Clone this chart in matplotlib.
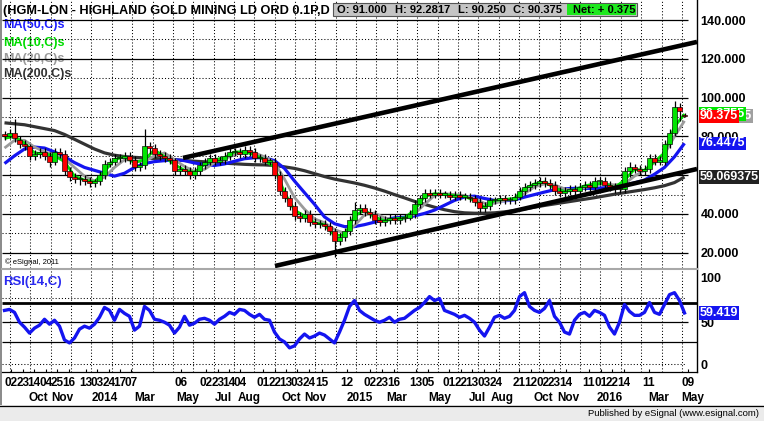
import matplotlib
matplotlib.use('Agg')
import matplotlib.pyplot as plt
import matplotlib.transforms as mtrans
from matplotlib.patches import Rectangle
from matplotlib.lines import Line2D
import numpy as np

W, H = 764, 421
FONT = 'Liberation Sans'
plt.rcParams['font.family'] = [FONT, 'DejaVu Sans']

# ---------------- data (weekly candles) ----------------
closes = [80, 82, 79, 76, 75, 70, 71, 72, 70, 67,
          72, 71, 62, 59, 58, 58, 57, 56, 57, 60,
          66, 67, 69, 69, 70, 68, 64, 65, 75, 74,
          71, 70, 69, 68, 62, 63, 62, 60, 62, 65,
          67, 69, 67, 68, 70, 72, 72, 71, 73, 72,
          69, 69, 67, 67, 60, 52, 48, 44, 39, 38,
          40, 36, 35, 35, 34, 31, 26, 28, 31, 37,
          42, 43, 41, 40, 37, 36, 37, 38, 37, 38,
          38, 40, 45, 48, 51, 50, 51, 50, 50, 49,
          50, 49, 49, 48, 46, 43, 44, 47, 47, 48,
          47, 47, 49, 52, 54, 55, 56, 57, 56, 55,
          52, 51, 52, 53, 52, 54, 55, 54, 57, 57,
          55, 54, 53, 53, 62, 64, 63, 62, 63, 69,
          67, 67, 76, 82, 95, 93, 90.375]
opens = [81, 80, 82, 78, 76, 75, 70, 71, 72, 70,
         67, 72, 71, 62, 59, 58, 58, 57, 56, 57,
         60, 66, 67, 69, 69, 70, 68, 64, 65, 75,
         74, 71, 70, 69, 68, 62, 63, 62, 60, 62,
         65, 67, 69, 67, 68, 70, 72, 72, 71, 73,
         72, 69, 69, 67, 67, 60, 52, 48, 44, 39,
         38, 40, 36, 35, 35, 34, 31, 26, 28, 31,
         37, 42, 43, 41, 40, 37, 36, 37, 38, 37,
         38, 38, 40, 45, 48, 51, 50, 51, 50, 50,
         49, 50, 49, 49, 48, 46, 43, 44, 47, 47,
         48, 47, 47, 49, 52, 54, 55, 56, 57, 56,
         55, 52, 51, 52, 53, 52, 54, 55, 54, 57,
         57, 55, 54, 53, 53, 62, 64, 63, 62, 63,
         69, 67, 67, 76, 82, 95, 91]
highs = [83, 84, 89, 80, 78, 76, 73, 74, 74, 72,
         74, 74, 73, 64, 61, 60, 60, 59, 58, 62,
         68, 69, 71, 71, 72, 72, 70, 67, 84, 77,
         76, 73, 72, 71, 69, 65, 65, 64, 64, 67,
         69, 71, 71, 70, 72, 74, 74, 74, 75, 75,
         74, 71, 71, 69, 69, 62, 54, 50, 46, 41,
         42, 42, 38, 37, 37, 36, 33, 30, 33, 39,
         46, 45, 45, 43, 42, 39, 39, 40, 40, 40,
         40, 42, 47, 50, 53, 53, 53, 53, 52, 52,
         52, 52, 51, 51, 50, 48, 46, 49, 49, 50,
         50, 49, 51, 54, 56, 57, 58, 59, 59, 58,
         57, 54, 54, 55, 55, 56, 57, 57, 59, 59,
         59, 57, 56, 55, 64, 67, 66, 65, 65, 71,
         71, 70, 78, 84, 98, 97, 92.2817]
lows = [78, 79, 77, 74, 73, 68, 68, 69, 68, 64,
        65, 69, 60, 57, 56, 55, 55, 54, 54, 55,
        58, 64, 65, 67, 67, 66, 62, 62, 63, 71,
        69, 68, 67, 66, 60, 60, 60, 58, 58, 60,
        63, 65, 65, 65, 66, 68, 70, 69, 69, 70,
        67, 67, 65, 65, 58, 50, 46, 42, 37, 36,
        36, 34, 33, 33, 32, 29, 18, 24, 26, 29,
        35, 40, 39, 38, 35, 34, 34, 35, 35, 35,
        36, 37, 38, 43, 46, 48, 48, 48, 48, 47,
        47, 47, 47, 46, 44, 41, 41, 42, 45, 45,
        45, 45, 45, 47, 50, 52, 53, 54, 54, 53,
        50, 49, 49, 50, 50, 50, 52, 52, 52, 55,
        53, 52, 51, 51, 51, 59, 61, 60, 60, 61,
        65, 65, 65, 74, 80, 88, 90.25]

# moving averages, one value every two candles
ma10 = [79, 80, 76.5, 71.5, 71, 70, 67, 59.5, 57.5, 56.5,
        62, 68, 69.5, 66.5, 68, 73, 69.5, 65.5, 62.5, 61.5,
        65.5, 68, 69, 72, 72, 70.5, 68, 64, 51, 42,
        39, 35.5, 34.5, 29, 29, 39, 42, 38.5, 36.5, 37.5,
        38, 42, 49, 50.5, 50, 49.5, 49, 47, 43.5, 47,
        47.5, 48, 53, 55.5, 56.5, 53.5, 51.5, 52.5, 54.5, 55.5,
        56, 53.5, 57.5, 63, 62.5, 67, 71.5, 85, 91.5]
ma20 = [74, 78, 78, 74.5, 72, 70.5, 68.5, 64, 59.5, 57,
        59, 64, 68, 67.5, 67, 70, 71.5, 68, 64.5, 62,
        63, 66.5, 68.5, 70.5, 72, 71.5, 69.5, 66.5, 58, 48.5,
        42.5, 37.5, 35.5, 32, 30, 34, 39.5, 40.5, 38, 37,
        37.5, 40, 45, 49.5, 50.5, 50, 49.5, 48, 45.5, 45.5,
        47, 47.5, 50.5, 54, 55.5, 55, 53, 52, 53.5, 55,
        55.5, 55, 55.5, 59.5, 62.5, 66.5, 71, 80, 88]
ma50 = [66, 70, 73.5, 74.5, 74, 72, 69.5, 66.5, 64, 62.5,
        61, 59.5, 61, 64, 66, 67, 67.5, 68, 67.5, 66.3,
        65.5, 65, 65.8, 67.2, 68.5, 69, 69, 67.5, 63.5, 57,
        51, 45, 38.5, 35, 33.5, 33.5, 34.5, 35.8, 37, 38,
        38.3, 39, 40.3, 42, 44.5, 47, 48.8, 49.2, 48, 47,
        46.8, 47.3, 48.7, 50, 51.3, 52.5, 53, 53.2, 53.2, 53.2,
        53.5, 53.8, 55, 56, 57.5, 60.5, 64, 69.5, 76.4475]
ma200 = [87, 86.5, 86, 85, 84, 83, 81, 78.5, 76, 73.5,
         71.5, 70.3, 69.6, 69.2, 68.9, 68.6, 68.3, 68, 67.6, 67.2,
         66.9, 66.6, 66.2, 65.9, 65.6, 65.4, 65.3, 65, 64.3, 63.5,
         62.3, 60.8, 59.3, 58, 57, 56, 54.8, 53.4, 51.8, 50,
         48.3, 46.5, 45, 43.5, 42.2, 41.2, 40.6, 40.4, 40.4, 40.6,
         41.1, 41.8, 42.6, 43.5, 44.4, 45.2, 46, 46.8, 47.6, 48.4,
         49.3, 50.2, 51, 51.8, 52.6, 53.5, 54.6, 56.2, 59.069375]

rsi = [62, 63, 60, 50, 45, 39, 44, 47, 53, 48,
       52, 46, 32, 29, 34, 43, 46, 44, 48, 55,
       65, 62, 52, 63, 59, 56, 42, 46, 66, 62,
       53, 52, 50, 47, 39, 45, 56, 47, 49, 53,
       54, 52, 48, 53, 56, 60, 58, 63, 62, 58,
       55, 58, 53, 52, 40, 33, 30, 24, 26, 33,
       38, 34, 36, 39, 37, 33, 29, 40, 52, 66,
       72, 62, 58, 55, 52, 50, 52, 55, 50, 53,
       54, 58, 62, 65, 70, 76, 72, 74, 62, 60,
       58, 55, 57, 54, 50, 42, 36, 45, 55, 57,
       54, 56, 62, 76, 80, 66, 62, 60, 64, 72,
       56, 50, 40, 38, 52, 58, 60, 56, 62, 60,
       57, 45, 38, 50, 68, 61, 57, 57, 60, 70,
       60, 58, 68, 78, 80, 72, 59.419]

# trend lines drawn on the chart: (bar index, price)
upper_trend = ([181, 695], [68.9, 128.7])
lower_trend = ([273, 695], [13.2, 63.2])

price_ticks = [140, 120, 100, 80, 60, 40, 20]
price_dotted = [130, 110, 90, 70, 50, 30]
rsi_ticks = [100, 50, 0]

day_labels = ["02", "23", "14", "04", "25", "16", "13", "03", "24", "17", "07",
              "06", "02", "23", "14", "04", "01", "22", "13", "03", "24", "15",
              "12", "02", "23", "16", "13", "05", "01", "22", "13", "03", "24",
              "21", "12", "02", "23", "14", "11", "01", "22", "14", "11", "09"]
day_pos = [9, 21, 32, 44, 55, 67, 84, 95, 107, 118, 129,
           179, 204, 216, 227, 238, 261, 273, 284, 295, 307, 320,
           345, 368, 380, 392, 414, 426, 447, 459, 470, 482, 494,
           517, 529, 541, 552, 564, 587, 599, 610, 622, 647, 686]
month_labels = ["Oct", "Nov", "2014", "Mar", "May", "Jul", "Aug", "Oct", "Nov",
                "2015", "Mar", "May", "Jul", "Aug", "Oct", "Nov", "2016", "Mar", "May"]
month_pos = [36, 60, 103, 143, 186, 221, 247, 289, 313,
             358, 395, 438, 475, 500, 541, 566, 608, 657, 691]

title = "(HGM-LON - HIGHLAND GOLD MINING LD ORD 0.1P,D"
bar_open, bar_high, bar_low, bar_close, bar_net = 91.000, 92.2817, 90.250, 90.375, 0.375

# ---------------- figure ----------------
fig = plt.figure(figsize=(W / 100, H / 100), dpi=100)
fig.patch.set_facecolor('white')
pxT = mtrans.Affine2D().scale(1 / W, -1 / H).translate(0, 1) + fig.transFigure

ax = fig.add_axes([2 / W, 1 - 268 / H, 695 / W, 268 / H])
rs = fig.add_axes([2 / W, 1 - 372 / H, 695 / W, 102 / H])
for a in (ax, rs):
    for s in a.spines.values():
        s.set_visible(False)
    a.set_xlim(0, 695)
    a.set_facecolor('white')
ax.set_ylim(12.16, 150.31)
rs.set_ylim(-0.5, 103)

n = len(closes)
xc = 2.5 + 5 * np.arange(n)
xm = 2.5 + 10 * np.arange(len(ma10))

# grid
grid_t = np.arange(8, 685, 20.36)
dot = (0, (1, 2))
ax.vlines(grid_t, 12.16, 150.31, colors='black', linestyles=dot, lw=0.75, zorder=1.5)
rs.vlines(grid_t, -0.5, 103, colors='black', linestyles=dot, lw=0.75, zorder=1.5)
ax.hlines(price_ticks, 0, 686, colors='black', lw=0.9, zorder=1.6)
ax.hlines(price_dotted, 0, 684, colors='black', linestyles=dot, lw=0.75, zorder=1.5)
rs.hlines([70], 0, 695, colors='black', lw=2.0, zorder=1.6)
rs.hlines([50], 0, 686, colors='black', lw=0.9, zorder=1.6)
rs.hlines([30], 0, 695, colors='black', lw=0.9, zorder=1.6)
rs.hlines([75, 8], 0, 684, colors='black', linestyles=dot, lw=0.75, zorder=1.5)

# moving averages
ax.plot(xm, ma200, color='#333333', lw=2.3, zorder=3, solid_capstyle='butt')
ax.plot(xm, ma50, color='#1414f0', lw=2.3, zorder=3.1, solid_capstyle='butt')
ax.plot(xm, ma20, color='#9b9b9b', lw=2.0, zorder=3.2, solid_capstyle='butt')
ax.plot(xm, ma10, color='#00e600', lw=2.0, zorder=3.3, solid_capstyle='butt')

# candles
o = np.array(opens, float); c = np.array(closes, float)
hi = np.array(highs, float); lo = np.array(lows, float)
up = c >= o
ax.vlines(xc, lo, hi, colors='black', lw=0.9, zorder=4)
body_h = np.maximum(np.abs(c - o), 0.6)
ax.bar(xc, body_h, bottom=np.minimum(o, c), width=4.3,
       color=np.where(up, '#00e600', '#ff0000'), edgecolor='black', linewidth=0.45, zorder=4.5)

# trend lines
ax.plot(*upper_trend, color='black', lw=3.3, zorder=6, solid_capstyle='butt')
ax.plot(*lower_trend, color='black', lw=3.3, zorder=6, solid_capstyle='butt')

# RSI
rs.plot(xc, rsi, color='#1414f0', lw=2.4, zorder=3)

# axis ticks
ax.set_xticks([])
ax.yaxis.tick_right()
ax.set_yticks(price_ticks)
ax.set_yticklabels([f'{v:.3f}' for v in price_ticks], fontsize=9, fontweight='bold')
ax.tick_params(axis='y', length=0, pad=2.5)

rs.yaxis.tick_right()
rs.set_yticks(rsi_ticks)
rs.set_yticklabels([str(v) for v in rsi_ticks], fontsize=9, fontweight='bold')
rs.tick_params(axis='y', length=0, pad=2.5)
labs = rs.get_yticklabels()
labs[0].set_va('top'); labs[2].set_va('bottom')

rs.set_xticks(day_pos)
rs.set_xticklabels(day_labels, fontsize=8.5, fontweight='bold')
rs.tick_params(axis='x', length=2.5, width=0.8, direction='in', pad=3.5)
btr = mtrans.blended_transform_factory(rs.transData, pxT)
for lab, p in zip(month_labels, month_pos):
    rs.text(p, 398, lab, transform=btr, ha='center', va='center',
            fontsize=8.5, fontweight='bold', clip_on=False)

# right-side value boxes
def vbox(a, val, s, fc, tc='white', z=10):
    a.text(697.6, val, s, transform=a.transData, ha='left', va='center', fontsize=9,
           fontweight='bold', color=tc, clip_on=False, zorder=z,
           bbox=dict(boxstyle='square,pad=0.06', fc=fc, ec='none'))

vbox(ax, ma20[-1] + 2.5, '90.37555', '#a0a0a0', z=10)
vbox(ax, ma10[-1], '90.3755', '#00e600', z=11)
vbox(ax, closes[-1], f'{closes[-1]:.3f}', '#ff0000', z=12)
vbox(ax, ma50[-1], f'{ma50[-1]}', '#1414f0', z=12)
vbox(ax, ma200[-1], f'{ma200[-1]}', '#222222', z=12)
vbox(rs, rsi[-1], f'{rsi[-1]}', '#1414f0', z=12)

# header and legend (under the grid)
ax.text(3, 11, title, transform=pxT, fontsize=9.2, fontweight='bold', va='center',
        ha='left', clip_on=False, zorder=1)
leg = [("MA(50,C)s", '#1f1fff', 25), ("MA(10,C)s", '#00dd00', 43),
       ("MA(20,C)s", '#9a9a9a', 59), ("MA(200,C)s", '#333333', 74)]
for s, col, y in leg:
    ax.text(3, y, s, transform=pxT, fontsize=9, fontweight='bold', color=col,
            va='center', ha='left', clip_on=False, zorder=1)

ax.add_patch(Rectangle((333, 3), 304, 13, transform=pxT, fc='#c4c4c4', ec='#555555',
                       lw=0.8, clip_on=False, zorder=7))
ax.add_patch(Rectangle((567, 4), 69, 11, transform=pxT, fc='#1ee81e', ec='none',
                       clip_on=False, zorder=7.5))
for x0, s in [(337, f'O: {bar_open:.3f}'), (395, f'H: {bar_high}'),
              (458, f'L: {bar_low:.3f}'), (513, f'C: {bar_close:.3f}'),
              (573, f'Net: + {bar_net:.3f}')]:
    ax.text(x0, 9.8, s, transform=pxT, fontsize=8, fontweight='bold', va='center',
            ha='left', clip_on=False, zorder=8)

ax.text(5, 262, '© eSignal, 2011', transform=pxT, fontsize=5.5, va='center', ha='left',
        clip_on=False, zorder=8)
rs.text(3, 282, 'RSI(14,C)', transform=pxT, fontsize=9.5, fontweight='bold',
        color='#2a2af0', va='center', ha='left', clip_on=False, zorder=8)

# frame
fig.add_artist(Rectangle((0, 405), W, 16, transform=pxT, fc='#ebebeb', ec='none'))
fig.add_artist(Line2D([0, W], [405.5, 405.5], transform=pxT, color='black', lw=0.9))
fig.add_artist(Rectangle((0, 0), 1.6, 405, transform=pxT, fc='#8c8c8c', ec='none'))
fig.add_artist(Line2D([697, 697], [0, 372], transform=pxT, color='black', lw=1.0))
fig.add_artist(Line2D([2, 697], [372, 372], transform=pxT, color='black', lw=0.9))
fig.add_artist(Line2D([2, 697], [269, 269], transform=pxT, color='#a8a8a8', lw=1.5))
fig.text(759 / W, 1 - 413 / H, 'Published by eSignal (www.esignal.com)', fontsize=6.8,
         ha='right', va='center')

fig.savefig('out.png', dpi=100)
